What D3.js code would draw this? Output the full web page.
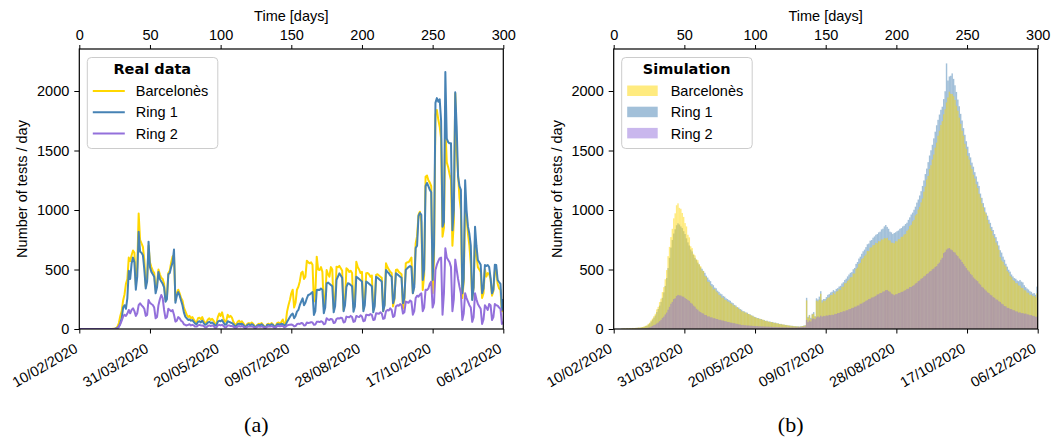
<!DOCTYPE html>
<html>
<head>
<meta charset="utf-8">
<script src="https://cdn.jsdelivr.net/npm/d3@7"></script>
<style>
  body { margin: 0; background: #fff; }
  svg text { font-family: "Liberation Sans", Arial, sans-serif; }
</style>
</head>
<body>
<svg id="chart" width="1056" height="442"></svg>
<script>
// ---- data (one value per day, day 0 = 10/02/2020) ----
var xTicks = [0, 50, 100, 150, 200, 250, 300];
var dateLabels = ["10/02/2020", "31/03/2020", "20/05/2020", "09/07/2020", "28/08/2020", "17/10/2020", "06/12/2020"];
var yTicks = [0, 500, 1000, 1500, 2000];
var seriesNames = ["Barcelonès", "Ring 1", "Ring 2"];

// real data, rows are weeks (Mon..Sun)
var realBcn = [
  0,0,0,0,0,0,0, 0,0,0,0,0,0,0, 0,0,0,0,0,0,0, 0,0,1,2,3,6,20,
  50,110,150,240,290,380,420, 600,570,620,660,640,370,520,
  970,750,720,690,580,360,420, 700,560,520,490,470,330,380,
  500,460,430,420,380,250,270, 470,490,560,610,620,240,300,
  330,300,260,240,180,150,120, 100,110,90,100,80,60,55,
  90,95,80,100,70,50,55, 80,90,75,85,70,40,45,
  100,130,110,140,90,60,70, 120,100,110,95,60,40,35,
  60,70,55,65,50,30,25, 45,50,40,55,45,25,20,
  35,45,40,50,35,20,15, 40,45,35,50,40,20,25,
  50,55,45,60,80,40,50, 146,200,244,300,330,180,220,
  330,355,400,470,482,420,440, 574,560,552,560,540,230,300,
  608,500,496,520,480,188,250, 496,460,440,520,500,170,240,
  524,520,530,510,490,160,230, 510,500,480,490,470,180,250,
  566,520,500,470,480,170,240, 468,470,460,440,450,160,220,
  454,460,450,440,430,150,210, 552,520,500,480,470,190,250,
  496,500,480,470,460,170,240, 552,560,560,580,600,300,380,
  720,780,960,986,900,328,450, 1280,1290,1250,1230,1200,300,600,
  1800,1840,1760,1700,1600,776,850, 1700,1400,1360,1300,1250,700,900,
  1980,1500,1300,1100,1000,260,400, 1020,950,800,700,550,250,350,
  760,620,520,500,480,260,300, 500,440,470,460,420,280,320,
  480,500,380,340,330,150,200
];
var realR1 = [
  0,0,0,0,0,0,0, 0,0,0,0,0,0,0, 0,0,0,0,0,0,0, 0,0,0,1,2,4,10,
  20,50,90,180,200,170,260, 490,420,550,600,560,330,440,
  818,650,640,620,500,340,400, 734,520,480,460,440,300,350,
  480,420,400,380,350,230,250, 460,470,520,560,668,220,280,
  310,280,240,200,140,104,90, 76,80,70,75,60,45,40,
  60,65,55,70,50,35,40, 55,60,50,55,45,30,30,
  60,70,65,75,55,35,40, 65,60,55,50,40,25,25,
  40,45,40,45,35,20,20, 35,40,30,40,35,20,15,
  30,35,30,40,30,15,15, 35,35,30,40,35,20,20,
  40,40,35,45,40,30,35, 60,80,100,120,130,90,110,
  146,160,200,230,258,200,220, 258,286,290,300,310,118,150,
  328,330,328,340,330,132,180, 384,390,380,370,360,140,190,
  412,440,468,450,430,150,200, 355,384,380,370,360,145,190,
  440,430,420,410,400,150,200, 400,390,380,370,360,140,190,
  440,430,420,410,400,150,200, 496,480,468,450,440,216,260,
  468,460,450,440,430,216,260, 496,510,520,530,520,300,350,
  680,700,950,975,960,412,500, 1200,1227,1200,1170,1150,412,700,
  1900,1940,1910,1930,1750,860,900, 2160,1600,1570,1560,1560,830,1000,
  1990,1700,1280,1200,1170,300,420, 1250,1000,860,800,700,244,350,
  860,700,580,560,540,300,340, 538,530,538,520,430,300,330,
  540,538,412,395,380,160,250
];
var realR2 = [
  0,0,0,0,0,0,0, 0,0,0,0,0,0,0, 0,0,0,0,0,0,0, 0,0,0,0,1,2,5,
  20,40,70,104,120,110,130, 160,132,160,174,150,110,132,
  200,216,200,188,170,110,118, 244,220,210,202,180,90,100,
  200,250,286,260,160,90,100, 170,160,150,160,120,62,70,
  100,90,70,60,40,34,30, 35,40,30,35,30,20,20,
  30,35,30,30,25,15,15, 25,30,25,30,25,12,12,
  30,35,30,35,25,15,15, 30,30,25,25,20,12,12,
  20,25,20,25,20,10,10, 20,22,20,22,18,10,10,
  20,20,18,22,18,10,10, 20,22,20,24,20,12,12,
  25,25,22,28,25,15,18, 30,34,36,38,34,22,25,
  40,45,42,50,48,30,32, 55,50,52,58,55,35,38,
  60,62,58,65,60,40,45, 90,80,76,85,80,50,55,
  85,90,88,95,90,55,60, 104,100,98,110,100,60,65,
  110,104,100,115,105,65,70, 120,118,115,125,118,75,80,
  132,130,128,140,130,85,90, 150,160,155,173,160,100,110,
  190,200,195,210,200,130,140, 230,225,220,240,230,120,150,
  260,280,272,290,300,150,180, 330,328,340,380,398,180,220,
  496,540,570,594,600,120,300, 678,600,580,560,520,150,250,
  583,500,420,356,300,76,130, 300,260,230,200,180,60,100,
  300,250,210,190,170,42,80, 200,180,160,210,200,76,100,
  210,200,196,180,170,42,60
];

// simulation, rows are weeks
var simBcn = [
  0,0,0,0,0,3,4, 5,4,7,5,8,6,9, 8,10,9,13,11,15,17, 21,27,30,44,53,72,88,
  108,128,165,186,226,255,310, 352,418,495,612,690,772,842,
  930,972,1040,1056,1018,1010,975, 942,890,862,792,770,695,680,
  632,618,585,578,545,528,492, 486,446,436,398,394,366,356,
  332,336,316,306,286,280,262, 264,246,244,232,228,216,212,
  198,198,182,184,168,162,148, 148,138,140,128,127,118,114,
  106,102,94,93,86,87,79, 80,71,69,65,63,58,59,
  54,53,49,49,44,43,39, 39,35,35,31,31,27,28,
  24,25,21,23,20,21,21, 25,25,31,240,92,112,84,
  122,128,102,238,232,246,296, 222,238,234,248,262,266,284,
  286,304,292,314,318,334,330, 354,356,384,386,404,416,434,
  436,466,466,504,516,546,556, 586,596,614,626,656,654,684,
  686,704,706,724,720,738,736, 754,750,764,760,766,746,744,
  726,724,720,738,736,754,756, 774,776,794,798,824,836,864,
  876,904,916,954,966,1004,1026, 1064,1096,1154,1196,1256,1286,1344,
  1376,1424,1466,1524,1566,1624,1666, 1714,1746,1804,1846,1904,1946,1994,
  1976,1974,1956,1924,1876,1834,1776, 1724,1666,1624,1556,1514,1456,1424,
  1376,1344,1296,1264,1216,1184,1136, 1104,1056,1024,986,964,916,884,
  846,824,786,764,726,704,666, 604,576,564,536,524,486,474,
  446,434,412,404,386,384,366, 364,346,344,326,324,306,304,
  286,288,276,278,266,300,258
];
var simR1 = [
  0,0,0,0,0,2,3, 4,3,5,4,6,5,8, 7,8,10,10,11,12,15, 18,23,27,37,47,63,79,
  96,114,142,168,197,228,262, 308,362,428,512,598,684,748,
  802,838,872,888,878,862,848, 822,798,762,728,702,668,652,
  622,598,582,558,542,518,506, 488,472,448,432,414,402,378,
  368,348,342,322,312,298,292, 278,272,258,252,243,237,223,
  217,203,197,183,180,168,162, 150,148,138,137,126,124,114,
  112,102,100,92,92,84,84, 76,76,68,70,62,64,58,
  59,52,54,47,48,41,43, 37,38,33,34,29,30,26,
  27,24,24,22,23,20,24, 25,29,31,262,102,118,94,
  128,142,108,258,248,272,318, 242,252,252,268,287,293,307,
  313,327,318,337,343,357,363, 382,393,412,423,442,458,472,
  478,502,513,547,563,592,608, 632,653,667,688,712,718,742,
  748,767,778,792,798,812,818, 837,843,862,874,858,842,818,
  812,798,807,813,822,828,842, 848,862,868,882,893,917,938,
  962,978,1002,1028,1062,1088,1122, 1158,1202,1248,1302,1348,1402,1458,
  1502,1548,1602,1658,1712,1758,1802, 1842,1868,1932,1998,2232,2088,2122,
  2128,2148,2102,2048,1992,1928,1872, 1808,1752,1688,1632,1578,1532,1478,
  1442,1398,1364,1318,1282,1238,1202, 1138,1102,1058,1022,978,952,918,
  892,858,832,798,772,738,702, 662,642,608,582,548,524,498,
  482,458,442,428,422,408,402, 412,398,392,368,352,340,332,
  318,312,298,302,288,356,278
];
var simR2 = [
  0,0,0,0,0,1,1, 1,1,2,1,2,2,2, 2,3,3,3,4,4,5, 6,7,9,12,15,20,26,
  33,37,46,54,66,77,93, 104,122,138,162,186,212,228,
  252,258,277,286,282,281,273, 271,260,252,243,236,220,212,
  196,187,170,162,148,142,133, 130,118,117,106,106,98,98,
  90,91,84,84,76,77,72, 71,66,65,59,59,54,53,
  49,49,44,43,39,38,33, 34,31,32,29,30,27,28,
  25,26,24,25,22,23,21, 22,20,21,19,20,18,19,
  17,18,16,17,15,16,14, 15,14,13,15,12,14,12,
  13,12,13,12,15,14,17, 16,19,20,76,58,72,63,
  86,88,82,98,106,98,112, 103,110,108,114,112,118,116,
  120,118,127,126,134,134,142, 142,150,148,157,158,167,168,
  177,178,187,188,197,198,212, 213,222,228,237,242,252,254,
  264,266,272,278,290,292,302, 303,314,316,327,328,318,312,
  298,292,284,292,293,302,303, 312,313,322,326,337,338,352,
  353,362,368,382,388,402,408, 422,428,442,448,462,468,482,
  488,502,508,522,528,547,558, 582,598,638,648,667,676,680,
  668,662,648,642,623,612,593, 582,563,547,528,512,494,482,
  463,452,433,422,410,402,383, 372,354,347,333,322,308,302,
  288,282,268,262,248,246,233, 227,213,207,193,190,178,177,
  168,167,158,157,148,147,138, 140,133,134,128,130,123,122,
  116,117,110,110,102,104,98
];

var colors = ["#ffd700", "#4682b4", "#9370db"];

var svg = d3.select("#chart");
var top_ = 49, bottom = 329, plotW = 424;
var fs = 14.5;

var y = d3.scaleLinear().domain([0, 2353]).range([bottom, top_]);

function panel(left, id, title, caption) {
  var x = d3.scaleLinear().domain([0, 300]).range([left, left + plotW]);
  var g = svg.append("g");

  g.append("clipPath").attr("id", "clip" + id)
    .append("rect").attr("x", left).attr("y", top_).attr("width", plotW).attr("height", bottom - top_);
  var plot = g.append("g").attr("clip-path", "url(#clip" + id + ")");

  // axes
  var ax = g.append("g").attr("transform", "translate(0," + top_ + ")")
    .call(d3.axisTop(x).tickValues(xTicks).tickSize(4).tickPadding(5.5).tickSizeOuter(0));
  ax.selectAll("text").style("font-size", fs + "px");

  var bx = g.append("g").attr("transform", "translate(0," + bottom + ")")
    .call(d3.axisBottom(x).tickValues(xTicks).tickSize(4.5).tickSizeOuter(0)
      .tickFormat(function(d, i) { return dateLabels[i]; }));
  bx.selectAll("text")
    .attr("x", 0).attr("y", 0).attr("dy", 0)
    .attr("text-anchor", "end")
    .attr("transform", "translate(-1,22.5) rotate(-30)")
    .style("font-size", fs + "px");

  var ay = g.append("g").attr("transform", "translate(" + left + ",0)")
    .call(d3.axisLeft(y).tickValues(yTicks).tickSize(5).tickPadding(5).tickSizeOuter(0)
      .tickFormat(d3.format("d")));
  ay.selectAll("text").style("font-size", fs + "px");

  [ax, bx, ay].forEach(function(a) {
    a.select(".domain").remove();
    a.selectAll("line").attr("stroke", "#000").attr("stroke-width", 1);
    a.selectAll("text").attr("fill", "#000");
  });

  g.append("text")
    .attr("x", left + plotW / 2).attr("y", 21)
    .attr("text-anchor", "middle").style("font-size", fs + "px")
    .text("Time [days]");

  g.append("text")
    .attr("transform", "translate(" + (left - 52) + "," + ((top_ + bottom) / 2) + ") rotate(-90)")
    .attr("text-anchor", "middle").style("font-size", fs + "px")
    .text("Number of tests / day");

  g.append("text")
    .attr("x", left - 35 + plotW / 2).attr("y", 432)
    .attr("text-anchor", "middle")
    .style("font-family", "'Liberation Serif', 'DejaVu Serif', serif")
    .style("font-size", "22px")
    .text(caption);

  return { g: g, plot: plot, x: x };
}

function legend(p, left, title, kind) {
  var lg = p.g.append("g").attr("transform", "translate(" + (left + 8) + ",57.5)");
  lg.append("rect").attr("width", 130.5).attr("height", 91).attr("rx", 4)
    .attr("fill", "#fff").attr("fill-opacity", 0.8)
    .attr("stroke", "#cccccc").attr("stroke-width", 1);
  lg.append("text").attr("x", 65).attr("y", 16)
    .attr("text-anchor", "middle")
    .style("font-family", "'DejaVu Sans', sans-serif")
    .style("font-weight", "bold").style("font-size", "14.5px")
    .text(title);
  seriesNames.forEach(function(name, i) {
    var cy = 33.5 + i * 21.2;
    if (kind == "line") {
      lg.append("line").attr("x1", 5.5).attr("x2", 37.5).attr("y1", cy).attr("y2", cy)
        .attr("stroke", colors[i]).attr("stroke-width", 2);
    } else {
      lg.append("rect").attr("x", 5.5).attr("y", cy - 5.5).attr("width", 30.5).attr("height", 10.5)
        .attr("fill", colors[i]).attr("fill-opacity", 0.5);
    }
    lg.append("text").attr("x", kind == "line" ? 48.5 : 49).attr("y", cy + 5.2)
      .style("font-size", fs + "px").text(name);
  });
}

// ---- (a) real data ----
var pa = panel(79.3, "a", "Real data", "(a)");
var line = d3.line().x(function(d, i) { return pa.x(i); }).y(function(d) { return y(d); });
[realBcn, realR1, realR2].forEach(function(s, k) {
  pa.plot.append("path").datum(s)
    .attr("d", line)
    .attr("fill", "none")
    .attr("stroke", colors[k])
    .attr("stroke-width", 2)
    .attr("stroke-linejoin", "round");
});

// ---- (b) simulation ----
var pb = panel(613.7, "b", "Simulation", "(b)");
// ring 1 drawn first, then Barcelonès, then ring 2 (as in the figure)
[[simR1, 1], [simBcn, 0], [simR2, 2]].forEach(function(pair) {
  pb.plot.append("g").selectAll("rect")
    .data(pair[0])
    .enter().append("rect")
    .attr("x", function(d, i) { return pb.x(i); })
    .attr("width", function(d, i) { return pb.x(i + 1) - pb.x(i); })
    .attr("y", function(d) { return y(d); })
    .attr("height", function(d) { return y(0) - y(d); })
    .attr("fill", colors[pair[1]])
    .attr("fill-opacity", 0.5);
});

// frames
[pa, pb].forEach(function(p) {
  p.g.append("rect")
    .attr("x", p.x(0)).attr("y", top_)
    .attr("width", plotW).attr("height", bottom - top_)
    .attr("fill", "none").attr("stroke", "#000").attr("stroke-width", 1.2);
});

legend(pa, 79.3, "Real data", "line");
legend(pb, 613.7, "Simulation", "patch");
</script>
</body>
</html>
